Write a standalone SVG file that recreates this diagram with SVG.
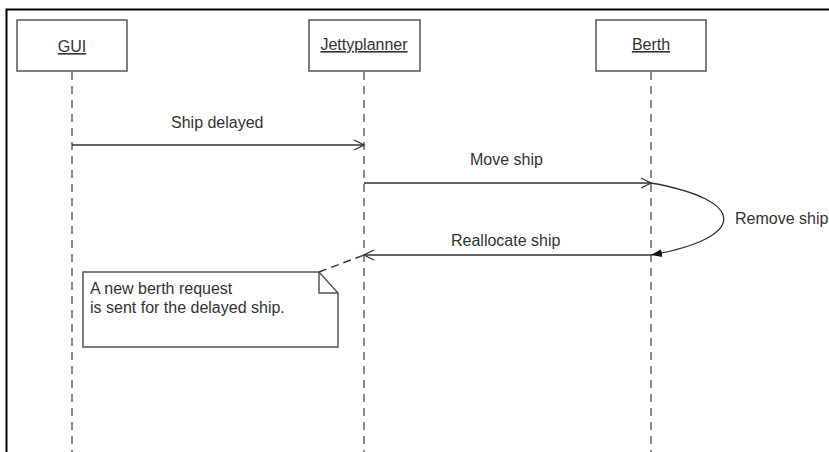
<svg xmlns="http://www.w3.org/2000/svg" width="829" height="452" viewBox="0 0 829 452">
<style>
text{font-family:"Liberation Sans",Arial,sans-serif;font-size:16px;fill:#333}
.box{fill:#fff;stroke:#555;stroke-width:1.5}
.life{stroke:#666;stroke-width:1.5;stroke-dasharray:8,6;fill:none}
.msg{stroke:#333;stroke-width:1.3;fill:none}
.u{text-decoration:underline}
</style>
<defs>
<marker id="open" viewBox="0 0 12 12" refX="11" refY="6" markerWidth="12" markerHeight="12" markerUnits="userSpaceOnUse" orient="auto">
<path d="M1,1 L11,6 L1,11" fill="none" stroke="#333" stroke-width="1.3"/>
</marker>
<marker id="filled" viewBox="0 0 12 10" refX="11" refY="5" markerWidth="12" markerHeight="10" markerUnits="userSpaceOnUse" orient="auto">
<path d="M0,1 L11,5 L0,9 Z" fill="#111"/>
</marker>
</defs>
<rect width="829" height="452" fill="#fff"/>
<path d="M829,9.5 H6.5 V452" fill="none" stroke="#000" stroke-width="2"/>
<g id="lifelines">
<line class="life" x1="72" y1="72" x2="72" y2="452"/>
<line class="life" x1="364" y1="72" x2="364" y2="452"/>
<line class="life" x1="651" y1="72" x2="651" y2="452"/>
</g>
<g id="gui">
<rect class="box" x="17" y="20" width="110" height="51"/>
<text class="u" x="72" y="52" text-anchor="middle">GUI</text>
</g>
<g id="jettyplanner">
<rect class="box" x="309" y="20" width="111" height="51"/>
<text class="u" x="364" y="50" text-anchor="middle">Jettyplanner</text>
</g>
<g id="berth">
<rect class="box" x="596" y="20" width="110" height="51"/>
<text class="u" x="651" y="50" text-anchor="middle">Berth</text>
</g>
<g id="note">
<path d="M83,272 H319 L338,293 V347 H83 Z" fill="#fff" stroke="#555" stroke-width="1.5"/>
<path d="M319,272 V293 H338" fill="none" stroke="#555" stroke-width="1.5"/>
<text x="90" y="294">A new berth request</text>
<text x="90" y="313">is sent for the delayed ship.</text>
</g>
<g id="connectors">
<line class="msg" x1="72" y1="145" x2="364" y2="145" marker-end="url(#open)"/>
<text x="171" y="128">Ship delayed</text>
<line class="msg" x1="364" y1="183" x2="651" y2="183" marker-end="url(#open)"/>
<text x="470" y="165">Move ship</text>
<path class="msg" d="M651,183 C748,200 748,238 651,255" marker-end="url(#filled)"/>
<text x="735" y="224">Remove ship</text>
<line class="msg" x1="651" y1="255" x2="364" y2="255" marker-end="url(#open)"/>
<text x="451" y="246">Reallocate ship</text>
<line x1="319" y1="272" x2="364" y2="255" stroke="#333" stroke-width="1.5" stroke-dasharray="8,5"/>
</g>
</svg>
